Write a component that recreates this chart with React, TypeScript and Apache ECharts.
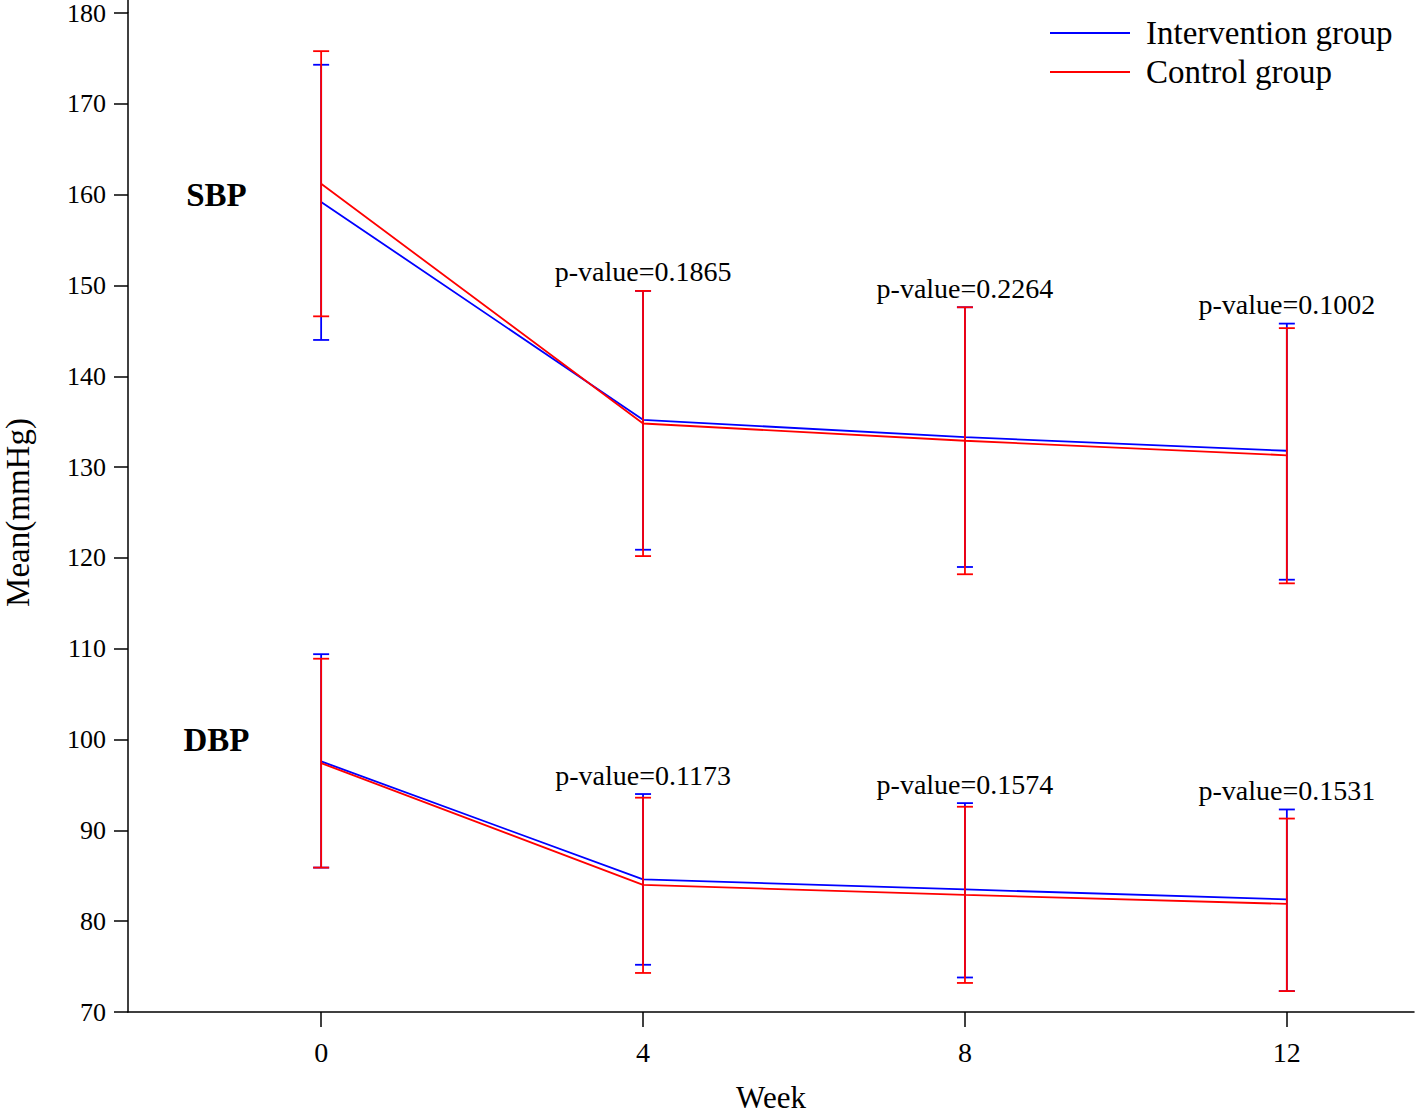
import React, { useEffect, useRef } from "react";
import * as echarts from "echarts";

const weeks = [0, 4, 8, 12];
const yTicks = [70, 80, 90, 100, 110, 120, 130, 140, 150, 160, 170, 180];

const sbpInterventionMean = [159.2, 135.2, 133.3, 131.8];
const sbpInterventionLow = [144.0, 120.9, 119.0, 117.6];
const sbpInterventionHigh = [174.3, 149.4, 147.6, 145.8];
const sbpControlMean = [161.2, 134.8, 132.9, 131.3];
const sbpControlLow = [146.6, 120.2, 118.2, 117.2];
const sbpControlHigh = [175.8, 149.4, 147.6, 145.3];

const dbpInterventionMean = [97.6, 84.6, 83.5, 82.4];
const dbpInterventionLow = [85.9, 75.2, 73.8, 72.3];
const dbpInterventionHigh = [109.4, 94.0, 93.0, 92.3];
const dbpControlMean = [97.4, 84.0, 82.9, 81.9];
const dbpControlLow = [85.9, 74.3, 73.2, 72.3];
const dbpControlHigh = [108.9, 93.6, 92.6, 91.3];

const pWeeks = [4, 8, 12];
const sbpPValues = ["0.1865", "0.2264", "0.1002"];
const dbpPValues = ["0.1173", "0.1574", "0.1531"];

const groupNames = ["SBP", "DBP"];
const groupLabelY = [160, 100];
const groupLabelWeek = -1.3;

const BLUE = "#0000ff";
const RED = "#ff0000";
const FONT = "'Liberation Serif', 'Times New Roman', serif";

function lineData(means: number[]) {
  return weeks.map((w, i) => [w, means[i]]);
}
function barData(low: number[], high: number[]) {
  return weeks.map((w, i) => [w, low[i], high[i]]);
}

function errorBarSeries(name: string, data: number[][], color: string) {
  return {
    type: "custom",
    name,
    data,
    encode: { x: 0, y: [1, 2] },
    z: color === RED ? 4 : 3,
    renderItem: (params: any, api: any) => {
      const x = api.value(0);
      const lo = api.coord([x, api.value(1)]);
      const hi = api.coord([x, api.value(2)]);
      const hw = 8;
      const style = { stroke: color, lineWidth: 1.8 };
      return {
        type: "group",
        children: [
          { type: "line", shape: { x1: hi[0], y1: hi[1], x2: lo[0], y2: lo[1] }, style },
          { type: "line", shape: { x1: hi[0] - hw, y1: hi[1], x2: hi[0] + hw, y2: hi[1] }, style },
          { type: "line", shape: { x1: lo[0] - hw, y1: lo[1], x2: lo[0] + hw, y2: lo[1] }, style },
        ],
      };
    },
  };
}

function pLabelSeries(name: string, values: string[], highA: number[], highB: number[]) {
  const data = pWeeks.map((w, i) => {
    const idx = weeks.indexOf(w);
    return [w, Math.max(highA[idx], highB[idx]), i];
  });
  return {
    type: "custom",
    name,
    data,
    encode: { x: 0, y: 1 },
    z: 5,
    renderItem: (params: any, api: any) => {
      const p = api.coord([api.value(0), api.value(1)]);
      const i = api.value(2);
      return {
        type: "text",
        x: p[0],
        y: p[1] - 5,
        style: {
          text: "p-value=" + values[i],
          fill: "#000",
          font: `28px ${FONT}`,
          align: "center",
          verticalAlign: "bottom",
        },
      };
    },
  };
}

function lineSeries(name: string, means: number[], color: string) {
  return {
    type: "line",
    name,
    data: lineData(means),
    symbol: "none",
    showSymbol: false,
    lineStyle: { color, width: 1.8 },
    itemStyle: { color },
    z: color === RED ? 4 : 3,
  };
}

export default function App() {
  const ref = useRef<HTMLDivElement>(null);

  useEffect(() => {
    if (!ref.current) return;
    const chart = echarts.init(ref.current, undefined, { renderer: "svg" });

    const option: any = {
      animation: false,
      backgroundColor: "#ffffff",
      grid: {
        left: 128,
        right: 4,
        top: 13,
        bottom: 104,
        containLabel: false,
        outerBoundsMode: "none",
      },
      legend: {
        data: ["Intervention group", "Control group"],
        orient: "vertical",
        left: 1050,
        top: 15,
        padding: 0,
        itemWidth: 80,
        itemHeight: 2,
        itemGap: 3,
        icon: "rect",
        textStyle: {
          fontFamily: FONT,
          fontSize: 33,
          color: "#000",
          lineHeight: 36,
          padding: [0, 0, 0, 11],
        },
      },
      xAxis: {
        type: "value",
        min: -2.4,
        max: 13.58,
        name: "Week",
        nameLocation: "middle",
        nameGap: 70,
        nameTextStyle: { fontFamily: FONT, fontSize: 31, color: "#000", lineHeight: 30 },
        axisLine: { show: true, onZero: false, lineStyle: { color: "#000", width: 1.5 } },
        axisTick: { show: true, inside: false, length: 15, customValues: weeks, lineStyle: { color: "#000", width: 1.5 } },
        axisLabel: { customValues: weeks, margin: 26, fontFamily: FONT, fontSize: 28, color: "#000" },
        splitLine: { show: false },
      },
      yAxis: {
        type: "value",
        min: 70,
        max: 180,
        name: "Mean(mmHg)",
        nameLocation: "middle",
        nameGap: 94,
        nameTextStyle: { fontFamily: FONT, fontSize: 33, color: "#000" },
        axisLine: { show: true, onZero: false, lineStyle: { color: "#000", width: 1.5 } },
        axisTick: { show: true, inside: false, length: 14, customValues: yTicks, lineStyle: { color: "#000", width: 1.5 } },
        axisLabel: { customValues: yTicks, margin: 22, fontFamily: FONT, fontSize: 26, lineHeight: 24, color: "#000" },
        splitLine: { show: false },
      },
      graphic: [
        {
          type: "line",
          shape: { x1: 128, y1: 0, x2: 128, y2: 13 },
          style: { stroke: "#000", lineWidth: 1.5 },
        },
      ],
      series: [
        lineSeries("Intervention group", sbpInterventionMean, BLUE),
        lineSeries("Intervention group", dbpInterventionMean, BLUE),
        lineSeries("Control group", sbpControlMean, RED),
        lineSeries("Control group", dbpControlMean, RED),
        errorBarSeries("SBP intervention SD", barData(sbpInterventionLow, sbpInterventionHigh), BLUE),
        errorBarSeries("DBP intervention SD", barData(dbpInterventionLow, dbpInterventionHigh), BLUE),
        errorBarSeries("SBP control SD", barData(sbpControlLow, sbpControlHigh), RED),
        errorBarSeries("DBP control SD", barData(dbpControlLow, dbpControlHigh), RED),
        pLabelSeries("SBP p", sbpPValues, sbpInterventionHigh, sbpControlHigh),
        pLabelSeries("DBP p", dbpPValues, dbpInterventionHigh, dbpControlHigh),
        {
          type: "custom",
          name: "group labels",
          data: groupNames.map((n, i) => [groupLabelWeek, groupLabelY[i], i]),
          encode: { x: 0, y: 1 },
          renderItem: (params: any, api: any) => {
            const p = api.coord([api.value(0), api.value(1)]);
            return {
              type: "text",
              x: p[0],
              y: p[1],
              style: {
                text: groupNames[api.value(2)],
                fill: "#000",
                font: `bold 33px ${FONT}`,
                align: "center",
                verticalAlign: "middle",
              },
            };
          },
        },
      ],
    };

    chart.setOption(option);
    return () => chart.dispose();
  }, []);

  return (
    <div
      ref={ref}
      style={{ position: "absolute", left: 0, top: 0, width: 1418, height: 1116 }}
    />
  );
}
